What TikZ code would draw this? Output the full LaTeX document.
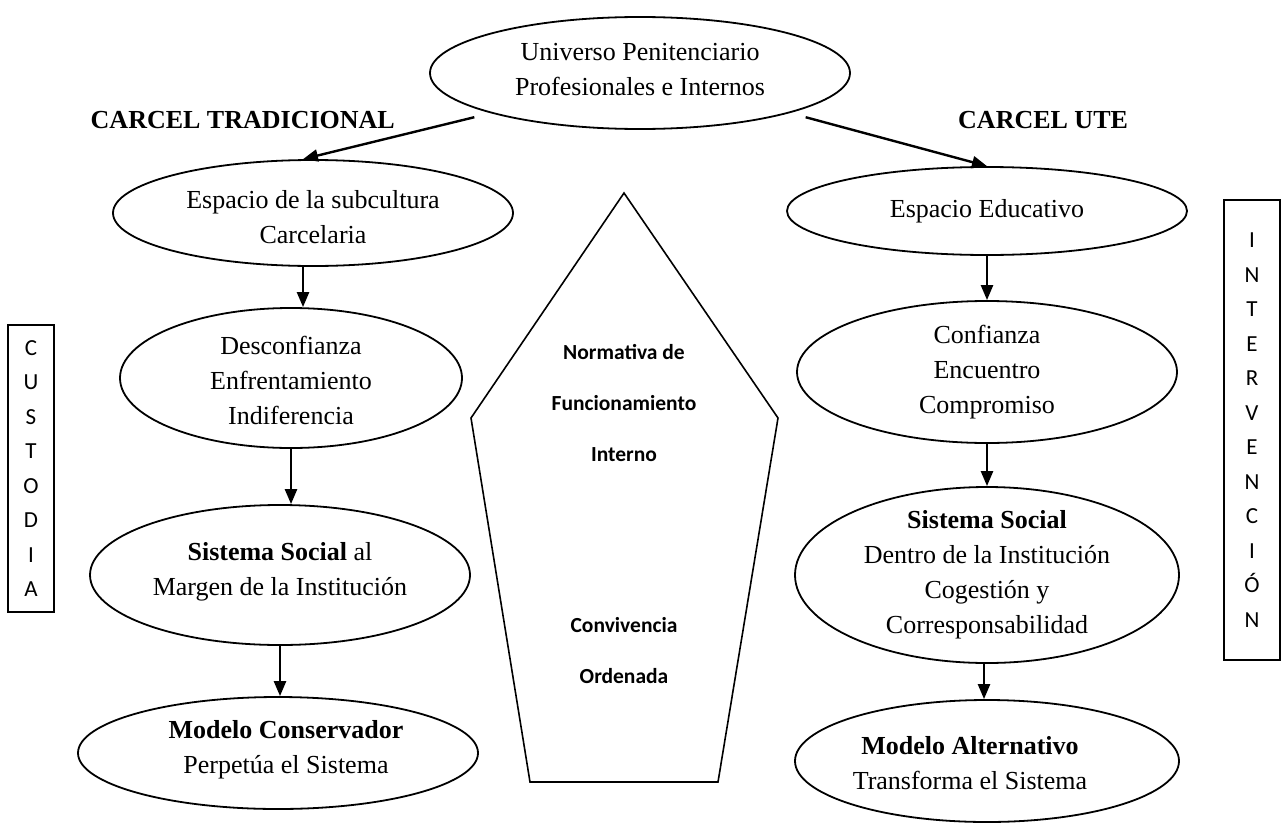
\documentclass[tikz,border=0pt]{standalone}
\usepackage{fontspec}
\setmainfont{Liberation Serif}
\newfontfamily\calib{Carlito}
\usetikzlibrary{arrows.meta,calc,shapes.geometric}
\begin{document}
\begin{tikzpicture}[x=1pt,y=-1pt,
  oval/.style={draw, ellipse, line width=1.8pt, inner sep=0pt},
  txt/.style={align=center, font=\fontsize{26}{35}\selectfont, inner sep=0pt},
  head/.style={font=\bfseries\fontsize{26}{30}\selectfont, inner sep=0pt},
  flow/.style={line width=2.4pt, -{Triangle[length=15pt,width=12pt]}},
  tag/.style={draw, line width=1.3pt, align=center, inner sep=0pt,
    font=\calib\fontsize{23}{34.5}\selectfont},
  rule/.style={align=center, inner sep=0pt, font=\calib\bfseries\fontsize{21.5}{51}\selectfont}
]
\useasboundingbox (0,0) rectangle (1282,827);

% top node
\node[oval, minimum width=420pt, minimum height=112pt] (top) at (640,73) {};
\node[txt] (topt) at (640,70) {Universo Penitenciario\\Profesionales e Internos};

% column headings
\node[head, anchor=east] (hl) at (395,120) {CARCEL TRADICIONAL};
\node[head, anchor=west] (hr) at (958,120) {CARCEL UTE};

% left column
\node[oval, minimum width=400pt, minimum height=106pt] (E1) at (313,213) {};
\node[txt] (E1t) at (313,217) {Espacio de la subcultura\\Carcelaria};
\node[oval, minimum width=342pt, minimum height=140pt] (E2) at (291,378) {};
\node[txt] (E2t) at (291,380) {Desconfianza\\Enfrentamiento\\Indiferencia};
\node[oval, minimum width=380pt, minimum height=140pt] (E3) at (280,575) {};
\node[txt] (E3t) at (280,572) {\textbf{Sistema Social} al\\Margen de la Instituci\'on};
\node[oval, minimum width=400pt, minimum height=112pt] (E4) at (278,753) {};
\node[txt] (E4t) at (286,750) {\textbf{Modelo Conservador}\\Perpet\'ua el Sistema};

% right column
\node[oval, minimum width=400pt, minimum height=88pt] (R1) at (987,211) {};
\node[txt] (R1t) at (987,211) {Espacio Educativo};
\node[oval, minimum width=380pt, minimum height=142pt] (R2) at (987,372) {};
\node[txt] (R2t) at (987,372) {Confianza\\Encuentro\\Compromiso};
\node[oval, minimum width=384pt, minimum height=176pt] (R3) at (987,575) {};
\node[txt] (R3t) at (987,575) {\textbf{Sistema Social}\\Dentro de la Instituci\'on\\Cogesti\'on y\\Corresponsabilidad};
\node[oval, minimum width=384pt, minimum height=122pt] (R4) at (987,761) {};
\node[txt] (R4t) at (970,763) {\textbf{Modelo Alternativo}\\Transforma el Sistema};

% side labels
\node[tag, minimum width=46pt, minimum height=287pt] (cust) at (31,468.5) {C\\U\\S\\T\\O\\D\\I\\A};
\node[tag, minimum width=56pt, minimum height=460pt] (interv) at (1252,430) {I\\N\\T\\E\\R\\V\\E\\N\\C\\I\\\'O\\N};

% central pentagon
\coordinate (pA) at (624,193);
\coordinate (pB) at (778,418);
\coordinate (pC) at (718,782);
\coordinate (pD) at (530,782);
\coordinate (pE) at (471,418);
\draw[line width=1.6pt, line join=miter] (pA) -- (pB) -- (pC) -- (pD) -- (pE) -- cycle;
\node[rule] (norm) at (624,403) {Normativa de\\Funcionamiento\\Interno};
\node[rule] (conv) at (624,651) {Convivencia\\Ordenada};

% connectors
\draw[flow] ([yshift=-9pt]top.192) -- ([xshift=-10pt]E1.north);
\draw[flow] ([yshift=-9pt]top.348) -- (R1.north);
\draw[flow] ([xshift=-10pt]E1.south) -- ([xshift=-10pt]E1.south |- E2.north);
\draw[flow] (E2.south) -- (E2.south |- E3.north);
\draw[flow] (E3.south) -- (E3.south |- E4.north);
\draw[flow] (R1.south) -- (R2.north);
\draw[flow] (R2.south) -- (R3.north);
\draw[flow] ([xshift=-3pt]R3.south) -- ([xshift=-3pt]R3.south |- R4.north);
\end{tikzpicture}
\end{document}
